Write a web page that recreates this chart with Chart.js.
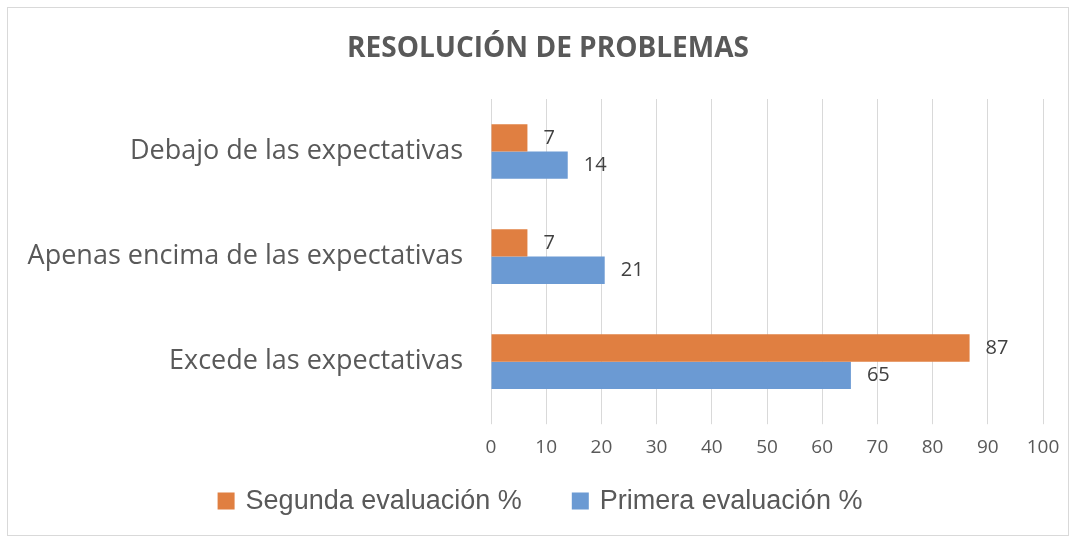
<!DOCTYPE html>
<html>
<head>
<meta charset="utf-8">
<script src="https://cdn.jsdelivr.net/npm/chart.js@4.4.0/dist/chart.umd.min.js"></script>
<style>
  html, body { margin: 0; padding: 0; background: #fff; }
  #wrap { width: 1076px; height: 541px; }
</style>
</head>
<body>
<div id="wrap"><canvas id="chart" width="1076" height="541"></canvas></div>
<script>
// datos
const chartTitle = 'RESOLUCIÓN DE PROBLEMAS';
const categories = ['Debajo de las expectativas', 'Apenas encima de las expectativas', 'Excede las expectativas'];
const segunda = [6.6, 6.6, 86.7];
const primera = [13.9, 20.6, 65.2];
const xTicks = [0, 10, 20, 30, 40, 50, 60, 70, 80, 90, 100];

const textColor = '#595959';

// etiquetas de valor al final de cada barra
const valueLabels = {
    id: 'valueLabels',
    afterDatasetsDraw(chart) {
        const ctx = chart.ctx;
        ctx.save();
        ctx.font = '20px "Open Sans"';
        ctx.fillStyle = '#404040';
        ctx.textBaseline = 'middle';
        ctx.textAlign = 'left';
        chart.data.datasets.forEach(function (ds, i) {
            chart.getDatasetMeta(i).data.forEach(function (bar, j) {
                ctx.fillText(Math.round(ds.data[j]), bar.x + 16, bar.y);
            });
        });
        ctx.restore();
    }
};

// marco gris y titulo (centrado en el area del grafico como en Excel)
const frame = {
    id: 'frame',
    beforeDraw(chart) {
        const ctx = chart.ctx;
        ctx.save();
        ctx.strokeStyle = '#d9d9d9';
        ctx.lineWidth = 1;
        ctx.strokeRect(7.5, 7.5, 1061, 528);
        ctx.font = 'bold 28px "Open Sans"';
        ctx.fillStyle = textColor;
        ctx.textAlign = 'center';
        ctx.textBaseline = 'middle';
        ctx.fillText(chartTitle, 548, 49);
        ctx.restore();
    }
};

// leyenda abajo, estilo Excel (cuadro 17px, separacion amplia)
const bottomLegend = {
    id: 'bottomLegend',
    afterDraw(chart) {
        const ctx = chart.ctx;
        const box = 17, gap = 11, itemGap = 50, cy = 501;
        ctx.save();
        ctx.font = '27px "Liberation Sans"';
        ctx.textBaseline = 'middle';
        const items = chart.data.datasets.map(function (ds) {
            return { text: ds.label, color: ds.backgroundColor, w: ctx.measureText(ds.label).width };
        });
        let total = 0;
        items.forEach(function (it, i) { total += box + gap + it.w + (i > 0 ? itemGap : 0); });
        let x = 540 - total / 2;
        items.forEach(function (it) {
            ctx.fillStyle = it.color;
            ctx.fillRect(x, cy - box / 2, box, box);
            ctx.fillStyle = textColor;
            ctx.fillText(it.text, x + box + gap, cy + 1);
            x += box + gap + it.w + itemGap;
        });
        ctx.restore();
    }
};

new Chart(document.getElementById('chart'), {
    type: 'bar',
    data: {
        labels: categories,
        datasets: [
            { label: 'Segunda evaluación %', data: segunda, backgroundColor: '#e07f41' },
            { label: 'Primera evaluación %', data: primera, backgroundColor: '#6b9ad3' }
        ]
    },
    plugins: [frame, valueLabels, bottomLegend],
    options: {
        indexAxis: 'y',
        responsive: false,
        animation: false,
        layout: { padding: { left: 10, right: 33, top: 99, bottom: 70 } },
        datasets: {
            bar: { barPercentage: 1, categoryPercentage: 0.52 }
        },
        scales: {
            x: {
                min: 0,
                max: 100,
                afterBuildTicks(scale) {
                    scale.ticks = xTicks.map(v => ({ value: v }));
                },
                grid: { color: '#d9d9d9', drawTicks: true, tickLength: 10, tickColor: '#d9d9d9' },
                border: { display: false },
                ticks: { color: textColor, padding: 12, font: { family: 'Open Sans', size: 19 } }
            },
            y: {
                afterFit(scale) { scale.width = 481; },
                grid: { display: false, drawTicks: false },
                border: { display: false },
                ticks: { color: textColor, padding: 28, font: { family: 'Open Sans', size: 27 } }
            }
        },
        plugins: {
            title: { display: false },
            legend: { display: false },
            tooltip: { enabled: false }
        }
    }
});
</script>
</body>
</html>
